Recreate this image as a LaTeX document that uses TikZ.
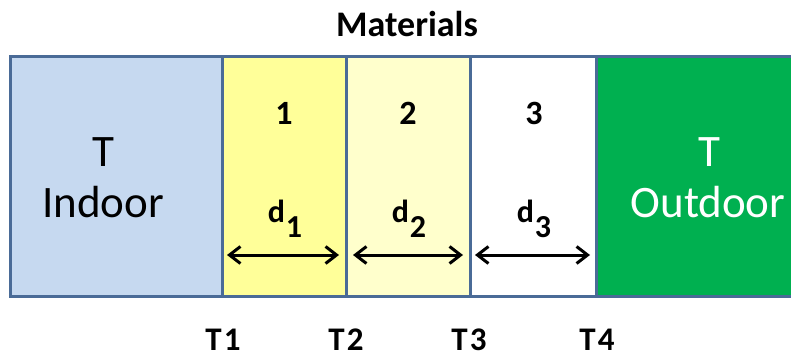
\documentclass[tikz,border=0pt]{standalone}
\usepackage{fontspec}
\setmainfont{Carlito}
\usetikzlibrary{arrows.meta,calc}

\definecolor{edgeblue}{HTML}{4A6B97}
\definecolor{indoorblue}{HTML}{C6D9F0}
\definecolor{layerA}{HTML}{FFFF99}
\definecolor{layerB}{HTML}{FFFFCC}
\definecolor{outdoorgreen}{HTML}{00B050}

\tikzset{
  region/.style={draw=edgeblue, line width=3pt, minimum height=239pt, inner sep=0pt, outer sep=0pt},
  bigtext/.style={font=\fontsize{45}{45}\selectfont, anchor=base, inner sep=0pt},
  numtext/.style={font=\fontsize{34}{34}\selectfont\bfseries, anchor=base, inner sep=0pt},
  dimtext/.style={font=\fontsize{32}{32}\selectfont\bfseries, anchor=base, inner sep=0pt},
  templabel/.style={font=\fontsize{33}{33}\selectfont\bfseries, anchor=base, inner sep=0pt},
  dimarrow/.style={line width=3pt, {Straight Barb[length=11pt,width=17pt]}-{Straight Barb[length=11pt,width=17pt]}}
}

\newcommand{\thick}[1]{d\kern1pt\raisebox{-15pt}{#1}}

\begin{document}
\begin{tikzpicture}[x=1pt,y=1pt]
  \useasboundingbox (0,0) rectangle (791,356);

  % wall layers
  \node[region, fill=indoorblue,  minimum width=212pt] (indoor)  at (116,179.5) {};
  \node[region, fill=outdoorgreen, minimum width=204pt] (outdoor) at (698,179.5) {};
  \node[region, fill=layerA, minimum width=124pt] (m1) at (284,179.5) {};
  \node[region, fill=layerB, minimum width=124pt] (m2) at (408,179.5) {};
  \node[region, fill=white,  minimum width=126pt] (m3) at (533,179.5) {};

  % title
  \node[font=\fontsize{36}{36}\selectfont\bfseries, anchor=base, inner sep=0pt] (title) at (407,319) {Materials};

  % indoor / outdoor temperatures
  \node[bigtext] (tin)  at (103,189) {T};
  \node[bigtext] (inl)  at (103,138) {Indoor};
  \node[bigtext, text=white] (tout) at (709,189) {T};
  \node[bigtext, text=white] (outl) at (708,139) {Outdoor};

  % layer numbers
  \node[numtext] (n1) at (284,231) {1};
  \node[numtext] (n2) at (408,231) {2};
  \node[numtext] (n3) at (534,231) {3};

  % thicknesses
  \node[dimtext] (d1) at (285,133) {\thick{1}};
  \node[dimtext] (d2) at (409,133) {\thick{2}};
  \node[dimtext] (d3) at (534,133) {\thick{3}};

  \draw[dimarrow] ($(m1.west)+(5,-78.5)$) -- ($(m1.east)+(-7,-78.5)$);
  \draw[dimarrow] ($(m2.west)+(7,-78.5)$) -- ($(m2.east)+(-7,-78.5)$);
  \draw[dimarrow] ($(m3.west)+(5,-78.5)$) -- ($(m3.east)+(-6,-78.5)$);

  % interface temperatures
  \node[templabel] (t1) at (223,6) {T\kern2pt1};
  \node[templabel] (t2) at (346,6) {T\kern2pt2};
  \node[templabel] (t3) at (469,6) {T\kern2pt3};
  \node[templabel] (t4) at (597,6) {T\kern2pt4};
\end{tikzpicture}
\end{document}
